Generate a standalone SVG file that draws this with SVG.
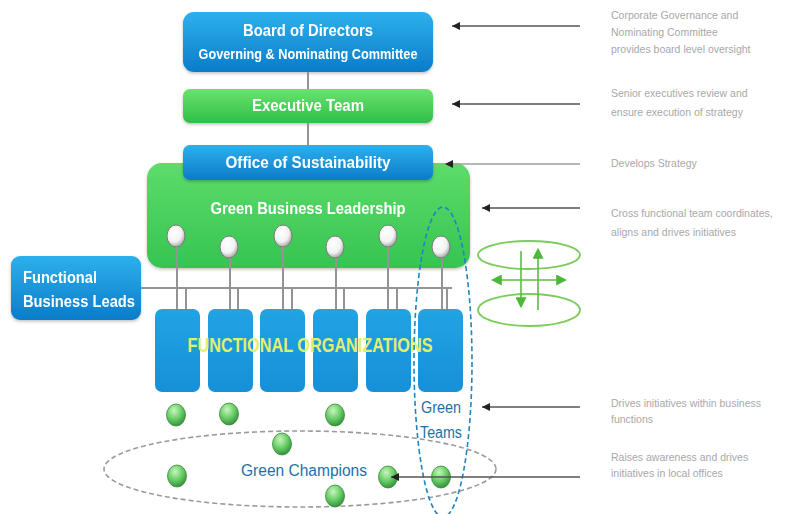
<svg xmlns="http://www.w3.org/2000/svg" width="786" height="514" viewBox="0 0 786 514">
<style>
.box-t{font-family:"Liberation Sans",Arial,sans-serif;font-weight:bold;fill:#ffffff;text-anchor:middle}
.note{font-family:"Liberation Sans",Arial,sans-serif;font-size:10.5px;fill:#a8a8a8}
.conn{stroke:#949494;stroke-width:2;fill:none}
.arr{stroke:#555;stroke-width:1.4;fill:none;marker-end:url(#ah)}
.blue-t{font-family:"Liberation Sans",Arial,sans-serif;fill:#1d6fa8;text-anchor:middle}
.rot{stroke:#7ccc5c;stroke-width:1.8;fill:none}
.rotl{stroke:#5cbc44;stroke-width:1.6;fill:none;marker-end:url(#gh)}
</style>
<defs>
<linearGradient id="gBlue" x1="0" y1="0" x2="0" y2="1">
<stop offset="0" stop-color="#2db0ec"/><stop offset="1" stop-color="#0b7cca"/>
</linearGradient>
<linearGradient id="gGreen" x1="0" y1="0" x2="0" y2="1">
<stop offset="0" stop-color="#6be26f"/><stop offset="1" stop-color="#2fbf48"/>
</linearGradient>
<linearGradient id="gGreenBig" x1="0" y1="0" x2="0" y2="1">
<stop offset="0" stop-color="#5ddc6a"/><stop offset="1" stop-color="#36c452"/>
</linearGradient>
<linearGradient id="gOrg" x1="0" y1="0" x2="0" y2="1">
<stop offset="0" stop-color="#22a3e4"/><stop offset="1" stop-color="#1690d8"/>
</linearGradient>
<radialGradient id="gWhite" cx="0.4" cy="0.35" r="0.7">
<stop offset="0" stop-color="#ffffff"/><stop offset="0.6" stop-color="#f2f2f2"/><stop offset="1" stop-color="#9a9a9a"/>
</radialGradient>
<radialGradient id="gBall" cx="0.4" cy="0.3" r="0.75">
<stop offset="0" stop-color="#c8f5be"/><stop offset="0.5" stop-color="#6cd06a"/><stop offset="1" stop-color="#2d8a36"/>
</radialGradient>
<marker id="ah" viewBox="0 0 10 10" refX="10" refY="5" markerWidth="8" markerHeight="8" orient="auto" markerUnits="userSpaceOnUse">
<path d="M10,5 L0,0 L0,10 z" fill="#222"/>
</marker>
<marker id="gh" viewBox="0 0 10 10" refX="8" refY="5" markerWidth="11" markerHeight="11" orient="auto" markerUnits="userSpaceOnUse">
<path d="M0,0 L10,5 L0,10 z" fill="#4cb83a"/>
</marker>
<filter id="sh" x="-10%" y="-10%" width="120%" height="130%">
<feDropShadow dx="0" dy="1.5" stdDeviation="1.5" flood-color="#000" flood-opacity="0.25"/>
</filter>
</defs>
<rect width="786" height="514" fill="#ffffff"/>

<g id="board" filter="url(#sh)">
<rect x="183" y="12" width="250" height="60" rx="11" fill="url(#gBlue)"/>
<text class="box-t" x="308" y="36" font-size="17" textLength="130" lengthAdjust="spacingAndGlyphs">Board of Directors</text>
<text class="box-t" x="308" y="59" font-size="14" textLength="219" lengthAdjust="spacingAndGlyphs">Governing &amp; Nominating Committee</text>
</g>

<g id="executive" filter="url(#sh)">
<rect x="183" y="89" width="250" height="34" rx="7" fill="url(#gGreen)"/>
<text class="box-t" x="308" y="111" font-size="17" textLength="112" lengthAdjust="spacingAndGlyphs">Executive Team</text>
</g>

<g id="green-business-leadership" filter="url(#sh)">
<rect x="147" y="163" width="323" height="105" rx="15" fill="url(#gGreenBig)"/>
<text class="box-t" x="308" y="214" font-size="17" textLength="195" lengthAdjust="spacingAndGlyphs">Green Business Leadership</text>
</g>

<g id="office" filter="url(#sh)">
<rect x="183" y="145" width="250" height="35" rx="7" fill="url(#gBlue)"/>
<text class="box-t" x="308" y="168" font-size="17" textLength="165" lengthAdjust="spacingAndGlyphs">Office of  Sustainability</text>
</g>

<g id="leader-dots" stroke="#7a7a7a" stroke-width="1">
<ellipse cx="176" cy="236" rx="9" ry="11" fill="url(#gWhite)"/>
<ellipse cx="229" cy="247" rx="9" ry="11" fill="url(#gWhite)"/>
<ellipse cx="283" cy="236" rx="9" ry="11" fill="url(#gWhite)"/>
<ellipse cx="335" cy="247" rx="9" ry="11" fill="url(#gWhite)"/>
<ellipse cx="388" cy="236" rx="9" ry="11" fill="url(#gWhite)"/>
<ellipse cx="441" cy="247" rx="9" ry="11" fill="url(#gWhite)"/>
</g>

<g id="functional-business-leads" filter="url(#sh)">
<rect x="11" y="256" width="130" height="64" rx="9" fill="url(#gBlue)"/>
<text class="box-t" x="23" y="283" font-size="17" style="text-anchor:start" textLength="74" lengthAdjust="spacingAndGlyphs">Functional</text>
<text class="box-t" x="23" y="307" font-size="17" style="text-anchor:start" textLength="112" lengthAdjust="spacingAndGlyphs">Business Leads</text>
</g>

<g id="functional-organizations">
<rect x="155" y="309" width="45" height="83" rx="7" fill="url(#gOrg)"/>
<rect x="208" y="309" width="45" height="83" rx="7" fill="url(#gOrg)"/>
<rect x="260" y="309" width="45" height="83" rx="7" fill="url(#gOrg)"/>
<rect x="313" y="309" width="45" height="83" rx="7" fill="url(#gOrg)"/>
<rect x="366" y="309" width="45" height="83" rx="7" fill="url(#gOrg)"/>
<rect x="418" y="309" width="45" height="83" rx="7" fill="url(#gOrg)"/>
<text x="310" y="352" font-family="Liberation Sans, Arial, sans-serif" font-size="20" font-weight="bold" fill="#e2ef6c" text-anchor="middle" textLength="245" lengthAdjust="spacingAndGlyphs">FUNCTIONAL  ORGANIZATIONS</text>
</g>

<g id="green-champions">
<ellipse cx="300" cy="469" rx="196" ry="38" fill="none" stroke="#9a9a9a" stroke-width="1.6" stroke-dasharray="5 3"/>
<g stroke="#3a8a3a" stroke-width="0.8">
<ellipse cx="176" cy="415" rx="9.5" ry="11" fill="url(#gBall)"/>
<ellipse cx="229" cy="414" rx="9.5" ry="11" fill="url(#gBall)"/>
<ellipse cx="335" cy="415" rx="9.5" ry="11" fill="url(#gBall)"/>
<ellipse cx="282" cy="444" rx="9.5" ry="11" fill="url(#gBall)"/>
<ellipse cx="177" cy="476" rx="9.5" ry="11" fill="url(#gBall)"/>
<ellipse cx="388" cy="477" rx="9.5" ry="11" fill="url(#gBall)"/>
<ellipse cx="441" cy="477" rx="9.5" ry="11" fill="url(#gBall)"/>
<ellipse cx="335" cy="496" rx="9.5" ry="11" fill="url(#gBall)"/>
</g>
<text class="blue-t" x="304" y="476" font-size="16" textLength="126" lengthAdjust="spacingAndGlyphs">Green Champions</text>
</g>

<g id="green-teams">
<ellipse cx="443" cy="362" rx="29" ry="155" fill="none" stroke="#1a86c4" stroke-width="1.6" stroke-dasharray="5 3"/>
<text class="blue-t" x="441" y="413" font-size="16" textLength="40" lengthAdjust="spacingAndGlyphs">Green</text>
<text class="blue-t" x="441" y="438" font-size="16" textLength="42" lengthAdjust="spacingAndGlyphs">Teams</text>
</g>

<g id="rotation-icon">
<ellipse class="rot" cx="529" cy="255" rx="51" ry="14"/>
<ellipse class="rot" cx="529" cy="310" rx="51" ry="16"/>
<line class="rotl" x1="521" y1="251" x2="521" y2="306"/>
<line class="rotl" x1="538" y1="310" x2="538" y2="250"/>
<line class="rotl" x1="529" y1="280" x2="565" y2="280"/>
<line class="rotl" x1="529" y1="280" x2="493" y2="280"/>
</g>

<g id="notes">
<text class="note" x="611" y="19">Corporate Governance and</text>
<text class="note" x="611" y="36">Nominating Committee</text>
<text class="note" x="611" y="53">provides board level oversight</text>
<text class="note" x="611" y="97">Senior executives review and</text>
<text class="note" x="611" y="116">ensure execution of strategy</text>
<text class="note" x="611" y="167">Develops Strategy</text>
<text class="note" x="611" y="217">Cross functional team coordinates,</text>
<text class="note" x="611" y="236">aligns and drives initiatives</text>
<text class="note" x="611" y="407">Drives initiatives within business</text>
<text class="note" x="611" y="423">functions</text>
<text class="note" x="611" y="461">Raises awareness and drives</text>
<text class="note" x="611" y="477">initiatives in local offices</text>
</g>

<g id="connectors">
<line class="conn" x1="308" y1="72" x2="308" y2="89"/>
<line class="conn" x1="308" y1="123" x2="308" y2="145"/>
<line class="conn" x1="141" y1="288" x2="452" y2="288"/>
<line class="conn" x1="177" y1="247" x2="177" y2="309"/>
<line class="conn" x1="186" y1="288" x2="186" y2="309"/>
<line class="conn" x1="230" y1="258" x2="230" y2="309"/>
<line class="conn" x1="238" y1="288" x2="238" y2="309"/>
<line class="conn" x1="283" y1="247" x2="283" y2="309"/>
<line class="conn" x1="292" y1="288" x2="292" y2="309"/>
<line class="conn" x1="336" y1="258" x2="336" y2="309"/>
<line class="conn" x1="344" y1="288" x2="344" y2="309"/>
<line class="conn" x1="388" y1="247" x2="388" y2="309"/>
<line class="conn" x1="397" y1="288" x2="397" y2="309"/>
<line class="conn" x1="442" y1="258" x2="442" y2="309"/>
<line class="conn" x1="447" y1="288" x2="447" y2="309"/>
<line class="arr" x1="580" y1="26" x2="452" y2="26"/>
<line class="arr" x1="580" y1="104" x2="452" y2="104"/>
<line class="arr" x1="580" y1="164" x2="445" y2="164" style="stroke:#a0a0a0"/>
<line class="arr" x1="580" y1="208" x2="482" y2="208"/>
<line class="arr" x1="580" y1="407" x2="482" y2="407"/>
<line class="arr" x1="580" y1="477" x2="391" y2="477"/>
</g>
</svg>
